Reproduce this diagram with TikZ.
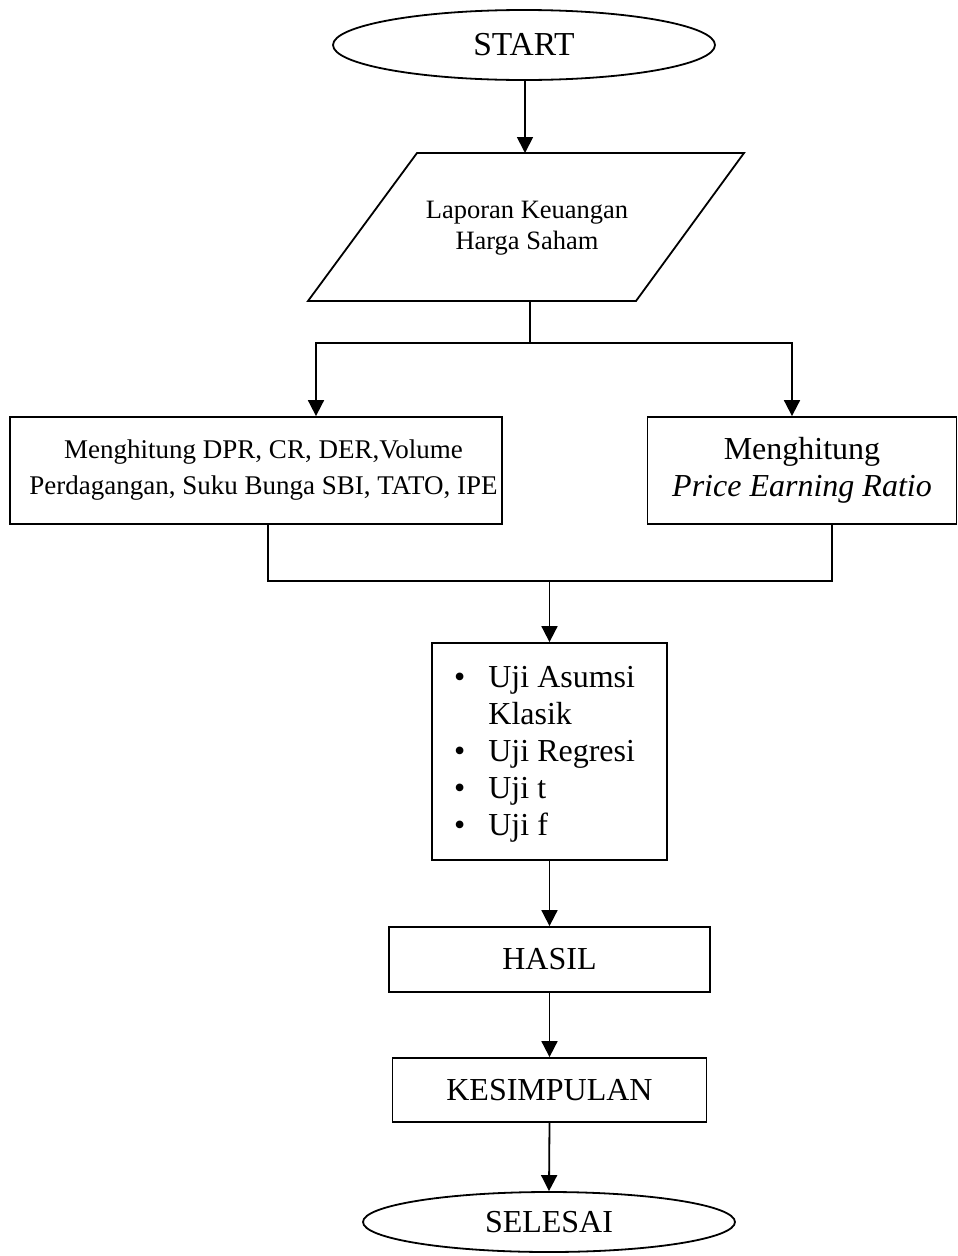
\documentclass[tikz,border=0pt]{standalone}
\usepackage{fontspec}
\setmainfont{Liberation Serif}
\usetikzlibrary{shapes.geometric,arrows.meta,calc}
\begin{document}
\begin{tikzpicture}[x=1pt,y=-1pt,
  every node/.style={font=\fontsize{32}{37}\selectfont, inner sep=0pt},
  ln/.style={line width=1.8pt},
  arr/.style={ln,-{Triangle[length=16pt,width=16pt]}},
  box/.style={draw, line width=1.8pt, rectangle, align=center},
  oval/.style={draw, line width=1.8pt, ellipse}
]
\useasboundingbox (0,0) rectangle (958,1256);
% start
\node[oval, minimum width=382pt, minimum height=70pt, font=\fontsize{33.5}{38}\selectfont] (start) at (524,45) {START};
% input parallelogram
\coordinate (p1) at (417,153);
\coordinate (p2) at (744,153);
\coordinate (p3) at (636,301);
\coordinate (p4) at (308,301);
\draw[ln, line join=miter] (p1) -- (p2) -- (p3) -- (p4) -- cycle;
\node[align=center, font=\fontsize{26.5}{31}\selectfont] (input) at (527,228) {Laporan Keuangan\\Harga Saham};
\coordinate (ptop) at (525,153);
\coordinate (pbot) at (530,301);
\coordinate (split) at (530,343);
% boxes
\node[box, minimum width=492pt, minimum height=107pt, font=\fontsize{27}{36}\selectfont] (lbox) at (256,470.5)
  {\hspace*{15pt}Menghitung DPR, CR, DER,Volume\\\hspace*{15pt}Perdagangan, Suku Bunga SBI, TATO, IPE};
\node[box, minimum width=309pt, minimum height=107pt] (rbox) at (802,470.5)
  {Menghitung\\\textit{Price Earning Ratio}};
\coordinate (merge) at (549.5,580);
\node[box, minimum width=235pt, minimum height=217pt] (test) at (549.5,751.5) {};
\node[anchor=base west] (testtxt) at (454,687) {%
  \begin{tabular}[t]{@{}l@{\hspace{23pt}}l@{}}
  \textbullet & Uji Asumsi\\
   & Klasik\\
  \textbullet & Uji Regresi\\
  \textbullet & Uji t\\
  \textbullet & Uji f
  \end{tabular}};
\node[box, minimum width=321pt, minimum height=65pt] (hasil) at (549.5,959.5) {HASIL};
\node[box, minimum width=314pt, minimum height=64pt] (kes) at (549.5,1090) {KESIMPULAN};
\node[oval, minimum width=372pt, minimum height=60pt] (end) at (549,1222) {SELESAI};
% connectors
\draw[arr] (start.south -| ptop) -- (ptop);
\draw[ln] (pbot) -- (split);
\draw[arr] (split) -| ([xshift=60pt]lbox.north);
\draw[arr] (split) -| ([xshift=-10pt]rbox.north);
\draw[ln] ([xshift=12pt]lbox.south) -- ++(0,56) -| ([xshift=30pt]rbox.south);
\draw[arr] (merge) -- (test.north);
\draw[arr] (test.south) -- (hasil.north);
\draw[arr] (hasil.south) -- (kes.north);
\draw[arr] (kes.south) -- (end.north);
\end{tikzpicture}
\end{document}
